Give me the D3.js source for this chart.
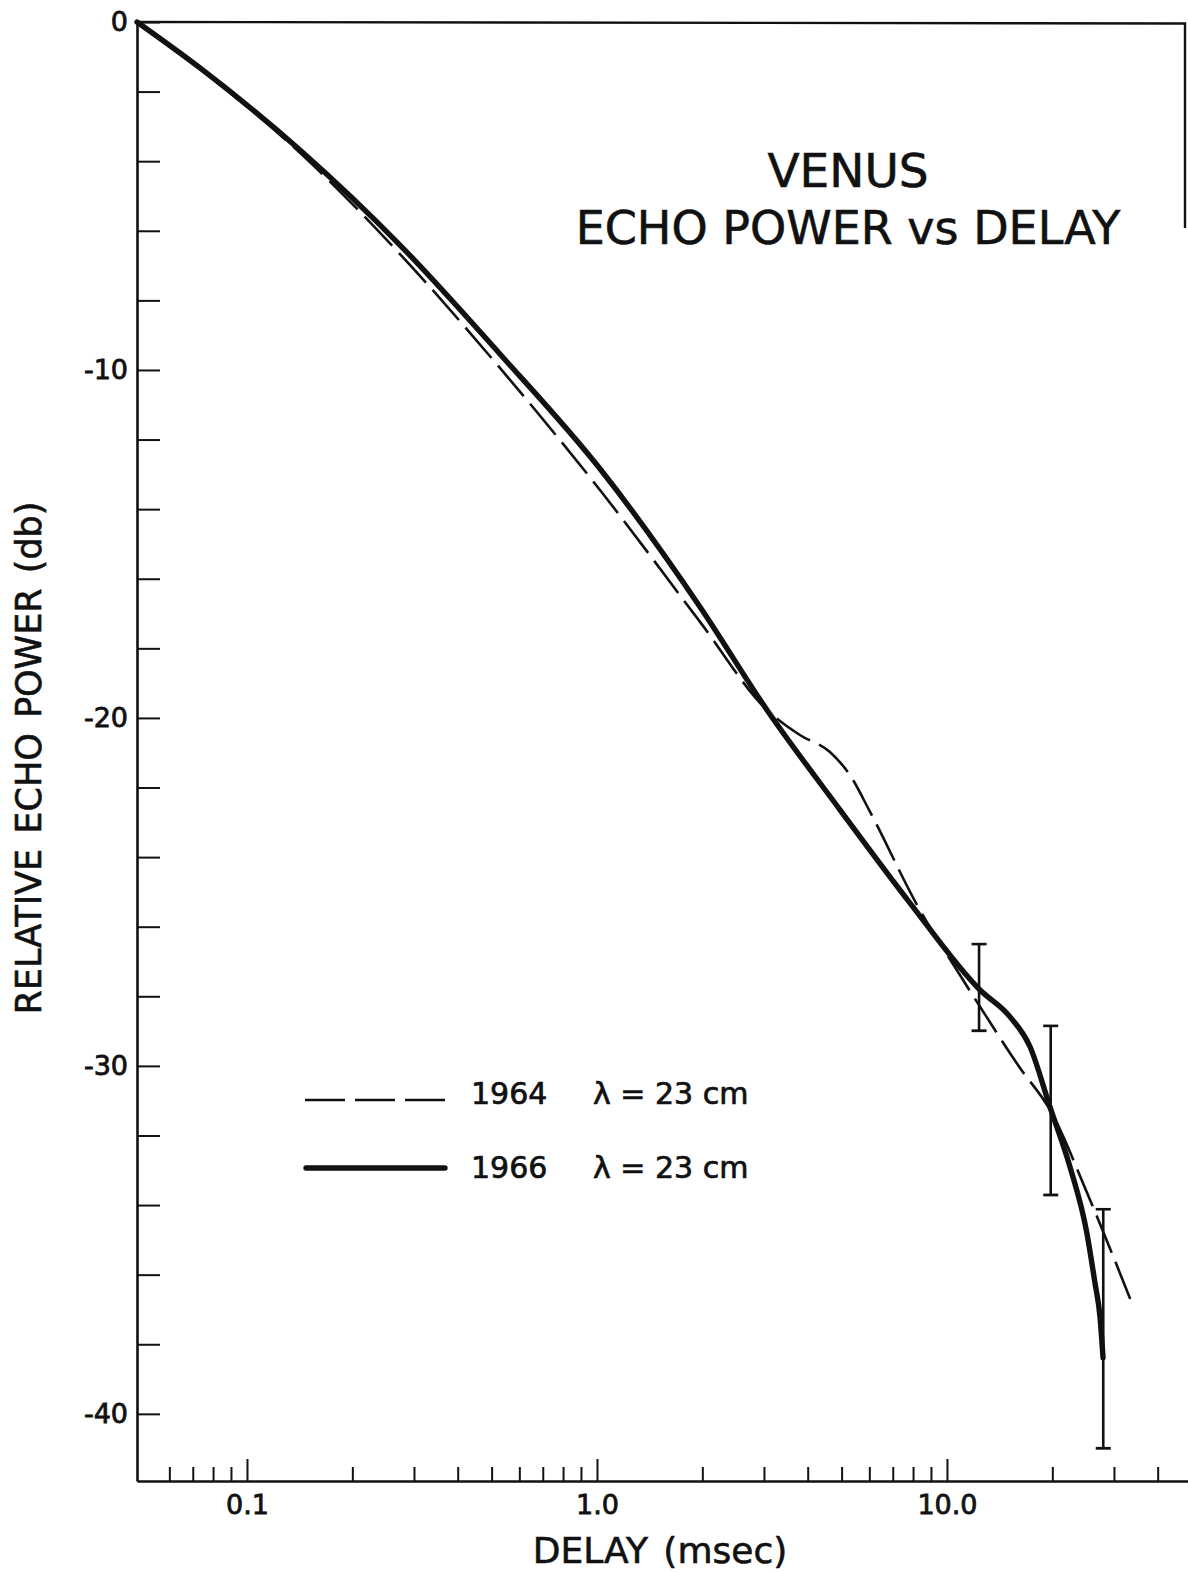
<!DOCTYPE html>
<html>
<head>
<meta charset="utf-8">
<script src="https://cdn.jsdelivr.net/npm/d3@7"></script>
<style>
  html, body { margin: 0; padding: 0; background: #ffffff; }
  svg text { font-family: "DejaVu Sans", sans-serif; fill: #111; }
</style>
</head>
<body>
<svg id="chart" width="1188" height="1572"></svg>
<script>
// Venus radar echo power vs delay, λ = 23 cm
// 1966 curve: delay (msec) and relative echo power (db)
const delay1966 = [0.0485, 0.0734, 0.1417, 0.2736, 0.528, 1.02, 1.97, 3.06, 4.947, 7.843,
  12.43, 15.14, 17.27, 19.69, 22.46, 25.1, 26.48, 27.36, 27.92];
const power1966 = [0, -1.32, -3.68, -6.41, -9.54, -12.84, -16.81, -19.77, -22.64, -25.32,
  -27.82, -28.59, -29.45, -31.18, -32.9, -34.8, -36.24, -37.2, -38.39];

// 1964 curve
const delay1964 = [0.0485, 0.0734, 0.1417, 0.2736, 0.528, 1.02, 1.97, 3.06, 3.8, 4.63, 5.28,
  6.03, 8.21, 10.89, 12.43, 16.17, 19.69, 25.62, 34.06];
const power1964 = [0, -1.35, -3.76, -6.67, -9.94, -13.45, -17.24, -19.77, -20.49, -20.98, -21.64,
  -22.7, -25.37, -27.39, -28.3, -30.06, -31.26, -33.85, -36.92];

// error bars on the 1966 curve
const errDelay = [12.35, 19.79, 27.96];
const errHigh = [-26.5, -28.85, -34.12];
const errLow = [-28.99, -33.71, -40.99];

// axis ticks
const xMajorTicks = [0.1, 1, 10];
const xMajorLabels = ["0.1", "1.0", "10.0"];
const xMinorTicks = [0.06, 0.07, 0.08, 0.09, 0.2, 0.3, 0.4, 0.5, 0.6, 0.7, 0.8, 0.9,
  2, 3, 4, 5, 6, 7, 8, 9, 20, 30, 40];
const yTicks = [0, -2, -4, -6, -8, -10, -12, -14, -16, -18, -20, -22, -24, -26, -28, -30,
  -32, -34, -36, -38, -40];
const yLabelled = [0, -10, -20, -30, -40];
const yLabels = ["0", "-10", "-20", "-30", "-40"];

const legendYears = ["1964", "1966"];
const legendWave = ["λ = 23 cm", "λ = 23 cm"];

const svg = d3.select("#chart");
const ink = "#111";

// log delay axis, linear power axis
const x = d3.scaleLog().domain([0.0485, 50]).range([137, 1191.6]);
const y = d3.scaleLinear().domain([0, -41.93]).range([22, 1481]);

const x0 = x.range()[0];
const yBottom = y.range()[1];

// bottom axis: minor ticks, then major ticks with labels
const gxMinor = svg.append("g")
  .attr("transform", `translate(0,${yBottom})`)
  .call(d3.axisBottom(x).tickValues(xMinorTicks).tickSize(-14).tickSizeOuter(0).tickFormat(""));
gxMinor.select(".domain").remove();

const gx = svg.append("g")
  .attr("transform", `translate(0,${yBottom})`)
  .call(d3.axisBottom(x).tickValues(xMajorTicks).tickSize(-22).tickSizeOuter(0)
    .tickPadding(14).tickFormat((d, i) => xMajorLabels[i]));

// left axis with inward ticks every 2 db
const gy = svg.append("g")
  .attr("transform", `translate(${x0},0)`)
  .call(d3.axisLeft(y).tickValues(yTicks).tickSize(-23).tickSizeOuter(0).tickPadding(9)
    .tickFormat(v => { const k = yLabelled.indexOf(v); return k >= 0 ? yLabels[k] : ""; }));

[gxMinor, gx, gy].forEach(g => {
  g.attr("font-family", null).attr("font-size", null);
  g.select(".domain").attr("stroke", ink).attr("stroke-width", 2.6);
  g.selectAll(".tick line").attr("stroke", ink).attr("stroke-width", 2);
  g.selectAll(".tick text").attr("fill", ink).attr("font-size", 27)
    .attr("stroke", ink).attr("stroke-width", 0.8);
});

// frame: top edge and the short right edge
svg.append("path")
  .attr("d", d3.line()([[x0, y(0)], [1185, y(0) + 1.5], [1185, 228]]))
  .attr("fill", "none").attr("stroke", ink).attr("stroke-width", 2.4);

// curves
const line = d3.line().x(d => x(d[0])).y(d => y(d[1])).curve(d3.curveMonotoneX);

svg.append("path")
  .datum(delay1964.map((d, i) => [d, power1964[i]]))
  .attr("d", line)
  .attr("fill", "none").attr("stroke", ink).attr("stroke-width", 2.6)
  .attr("stroke-dasharray", "40,10");

svg.append("path")
  .datum(delay1966.map((d, i) => [d, power1966[i]]))
  .attr("d", line)
  .attr("fill", "none").attr("stroke", ink).attr("stroke-width", 5.4)
  .attr("stroke-linecap", "round").attr("stroke-linejoin", "round");

// error bars
const eb = svg.append("g").attr("stroke", ink).attr("fill", "none");
errDelay.forEach((d, i) => {
  const cx = x(d), y1 = y(errHigh[i]), y2 = y(errLow[i]);
  eb.append("line").attr("x1", cx).attr("x2", cx).attr("y1", y1).attr("y2", y2).attr("stroke-width", 2.6);
  eb.append("line").attr("x1", cx - 7.5).attr("x2", cx + 7.5).attr("y1", y1).attr("y2", y1).attr("stroke-width", 2.6);
  eb.append("line").attr("x1", cx - 7.5).attr("x2", cx + 7.5).attr("y1", y2).attr("y2", y2).attr("stroke-width", 2.8);
});

// legend
const lg = svg.append("g");
lg.append("line").attr("x1", 305).attr("x2", 446).attr("y1", 1100).attr("y2", 1100)
  .attr("stroke", ink).attr("stroke-width", 2.6).attr("stroke-dasharray", "40,10");
lg.append("line").attr("x1", 306).attr("x2", 445).attr("y1", 1168).attr("y2", 1168)
  .attr("stroke", ink).attr("stroke-width", 5.4).attr("stroke-linecap", "round");
[1104, 1178].forEach((by, i) => {
  lg.append("text").attr("x", 471).attr("y", by).attr("font-size", 30)
    .attr("stroke", ink).attr("stroke-width", 0.7).text(legendYears[i]);
  lg.append("text").attr("x", 593).attr("y", by).attr("font-size", 30)
    .attr("stroke", ink).attr("stroke-width", 0.7).text(legendWave[i]);
});

// title
svg.append("text").attr("x", 848).attr("y", 187).attr("text-anchor", "middle")
  .attr("font-size", 47).attr("stroke", ink).attr("stroke-width", 0.6).text("VENUS");
svg.append("text").attr("x", 848).attr("y", 244).attr("text-anchor", "middle")
  .attr("font-size", 46).attr("stroke", ink).attr("stroke-width", 0.6)
  .text("ECHO POWER vs DELAY");

// axis titles
svg.append("text").attr("x", 660).attr("y", 1563).attr("text-anchor", "middle")
  .attr("font-size", 36).attr("stroke", ink).attr("stroke-width", 0.6)
  .attr("word-spacing", 4).text("DELAY (msec)");
svg.append("text").attr("transform", "translate(41,758) rotate(-90)").attr("text-anchor", "middle")
  .attr("font-size", 35).attr("stroke", ink).attr("stroke-width", 0.6)
  .attr("word-spacing", 4).text("RELATIVE ECHO POWER (db)");
</script>
</body>
</html>
